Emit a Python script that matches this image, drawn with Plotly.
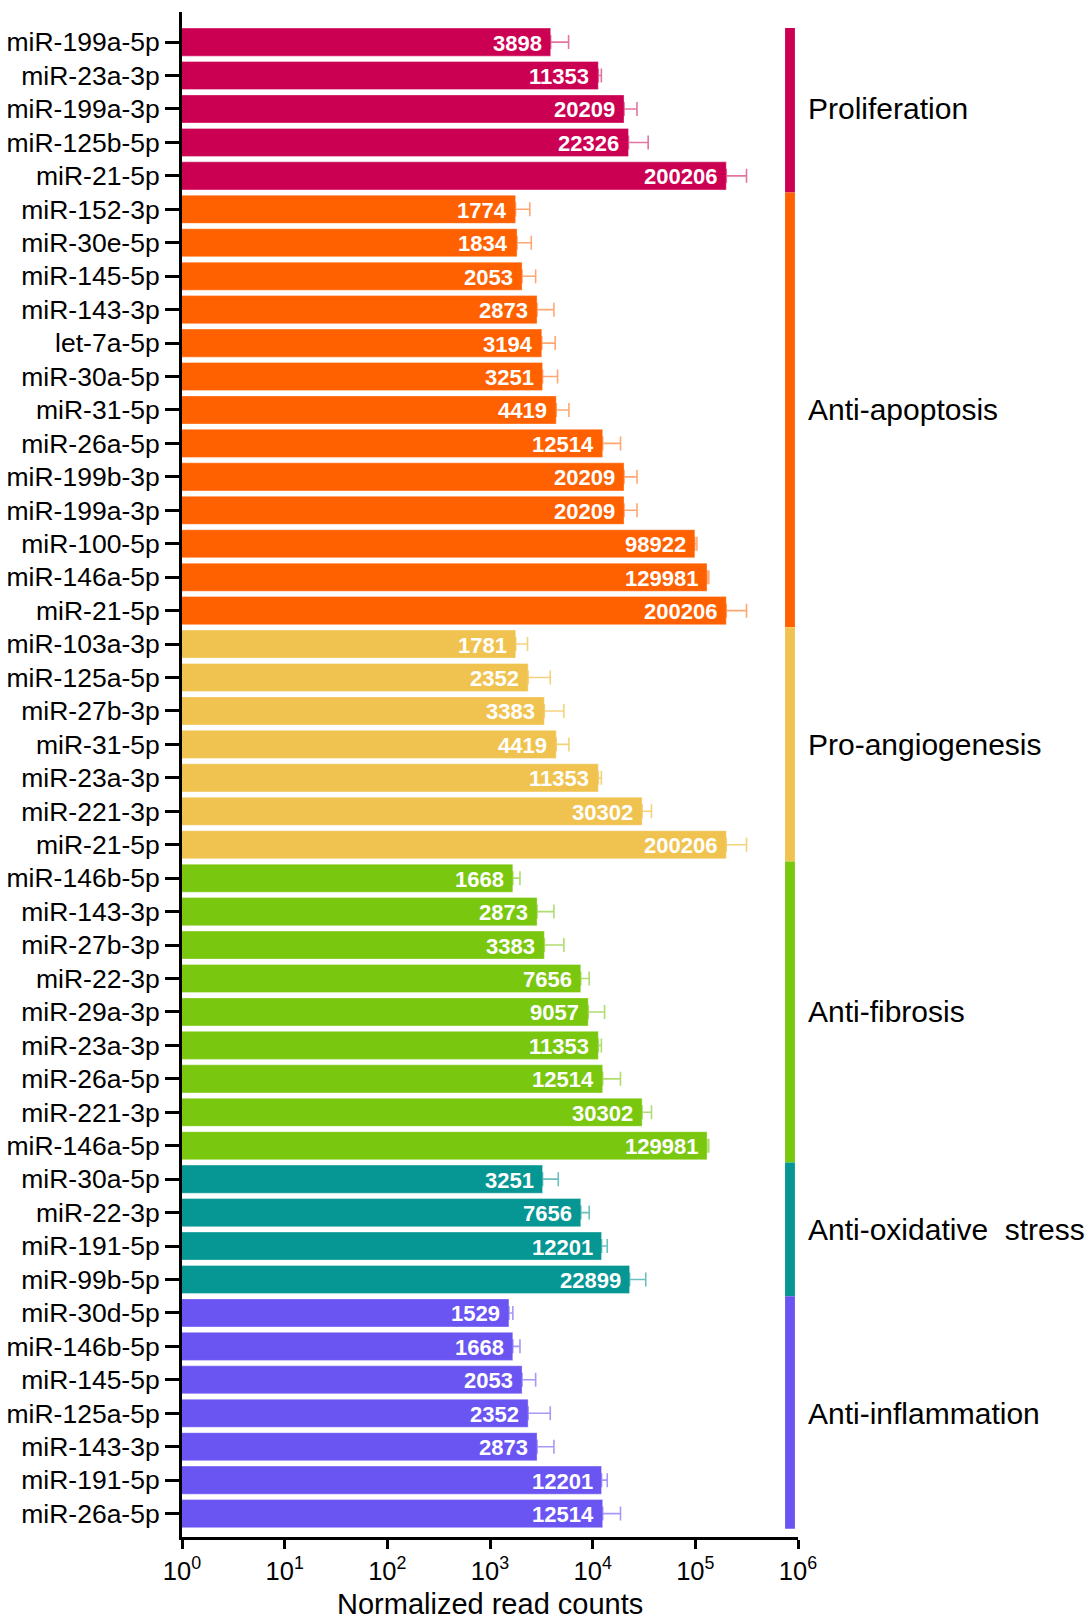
import numpy as np
import plotly.graph_objects as go

# Functional groups of miRNAs (top to bottom)
groups = ["Proliferation", "Anti-apoptosis", "Pro-angiogenesis",
          "Anti-fibrosis", "Anti-oxidative  stress", "Anti-inflammation"]
group_colors = ["#CC0052", "#FF6000", "#F0C350", "#7AC70F", "#069693", "#6A55F2"]
group_err_colors = ["rgba(204,0,82,0.55)", "rgba(255,96,0,0.55)", "rgba(240,195,80,0.75)",
                    "rgba(122,199,15,0.6)", "rgba(6,150,147,0.6)", "rgba(106,85,242,0.6)"]

proliferation_names = ["miR-199a-5p", "miR-23a-3p", "miR-199a-3p", "miR-125b-5p", "miR-21-5p"]
proliferation_counts = [3898, 11353, 20209, 22326, 200206]
proliferation_err = [1930, 800, 6800, 12400, 115000]

apoptosis_names = ["miR-152-3p", "miR-30e-5p", "miR-145-5p", "miR-143-3p", "let-7a-5p",
                   "miR-30a-5p", "miR-31-5p", "miR-26a-5p", "miR-199b-3p", "miR-199a-3p",
                   "miR-100-5p", "miR-146a-5p", "miR-21-5p"]
apoptosis_counts = [1774, 1834, 2053, 2873, 3194, 3251, 4419, 12514, 20209, 20209,
                    98922, 129981, 200206]
apoptosis_err = [670, 690, 730, 1320, 1120, 1300, 1450, 6150, 6800, 6800, 4600, 5300, 115000]

angiogenesis_names = ["miR-103a-3p", "miR-125a-5p", "miR-27b-3p", "miR-31-5p",
                      "miR-23a-3p", "miR-221-3p", "miR-21-5p"]
angiogenesis_counts = [1781, 2352, 3383, 4419, 11353, 30302, 200206]
angiogenesis_err = [540, 1510, 1860, 1450, 800, 7100, 115000]

fibrosis_names = ["miR-146b-5p", "miR-143-3p", "miR-27b-3p", "miR-22-3p", "miR-29a-3p",
                  "miR-23a-3p", "miR-26a-5p", "miR-221-3p", "miR-146a-5p"]
fibrosis_counts = [1668, 2873, 3383, 7656, 9057, 11353, 12514, 30302, 129981]
fibrosis_err = [290, 1320, 1860, 1600, 4000, 800, 6150, 7100, 5300]

oxidative_names = ["miR-30a-5p", "miR-22-3p", "miR-191-5p", "miR-99b-5p"]
oxidative_counts = [3251, 7656, 12201, 22899]
oxidative_err = [1370, 1600, 1660, 10000]

inflammation_names = ["miR-30d-5p", "miR-146b-5p", "miR-145-5p", "miR-125a-5p",
                      "miR-143-3p", "miR-191-5p", "miR-26a-5p"]
inflammation_counts = [1529, 1668, 2053, 2352, 2873, 12201, 12514]
inflammation_err = [140, 290, 730, 1510, 1320, 1660, 6150]

x_tick_vals = [1, 10, 100, 1000, 10000, 100000, 1000000]
x_tick_text = ["10<sup>0</sup>", "10<sup>1</sup>", "10<sup>2</sup>", "10<sup>3</sup>",
               "10<sup>4</sup>", "10<sup>5</sup>", "10<sup>6</sup>"]
x_title = "Normalized read counts"

group_data = [
    (proliferation_names, proliferation_counts, proliferation_err),
    (apoptosis_names, apoptosis_counts, apoptosis_err),
    (angiogenesis_names, angiogenesis_counts, angiogenesis_err),
    (fibrosis_names, fibrosis_counts, fibrosis_err),
    (oxidative_names, oxidative_counts, oxidative_err),
    (inflammation_names, inflammation_counts, inflammation_err),
]

FONT = "Arial, Liberation Sans, sans-serif"
fig = go.Figure()
annotations = []
shapes = []
all_names = []
start = 0
for gname, color, ecolor, (names, counts, errs) in zip(groups, group_colors,
                                                         group_err_colors, group_data):
    idx = list(range(start, start + len(names)))
    all_names.extend(names)
    fig.add_trace(go.Bar(
        x=counts, y=idx, orientation="h", width=0.84,
        marker=dict(color=color, line=dict(color="rgba(255,255,255,0.35)", width=1)),
        error_x=dict(type="data", array=errs, arrayminus=[0] * len(errs),
                     symmetric=False, color=ecolor, thickness=1.6, width=7),
        showlegend=False, hoverinfo="x+y",
    ))
    # value labels inside the bar ends
    for i, v in zip(idx, counts):
        annotations.append(dict(
            x=np.log10(v), y=i, xref="x", yref="y", text=f"<b>{v}</b>",
            showarrow=False, xanchor="right", yanchor="middle", xshift=-7, yshift=-1,
            font=dict(family=FONT, size=22, color="white"),
        ))
    # coloured group strip and group label on the right
    y0 = start - 0.5 if start > 0 else start - 0.42
    y1 = start + len(names) - 0.5 if start + len(names) < 45 else start + len(names) - 0.55
    shapes.append(dict(type="rect", xref="paper", yref="y", x0=0.979, x1=0.995,
                       y0=y0, y1=y1, fillcolor=color, line=dict(width=0), layer="above"))
    annotations.append(dict(
        x=1.013, y=(idx[0] + idx[-1]) / 2, xref="paper", yref="y", text=gname,
        showarrow=False, xanchor="left", yanchor="middle",
        font=dict(family=FONT, size=30, color="black"),
    ))
    start += len(names)

# x axis title
annotations.append(dict(
    x=0.5, y=-0.0440, xref="paper", yref="paper", text=x_title, showarrow=False,
    xanchor="center", yanchor="middle", font=dict(family=FONT, size=29, color="black"),
))

n = len(all_names)
fig.update_layout(
    width=1088, height=1620,
    margin=dict(l=182, r=290, t=12, b=83),
    paper_bgcolor="white", plot_bgcolor="white",
    font=dict(family=FONT, color="black"),
    annotations=annotations, shapes=shapes,
)
fig.update_xaxes(
    type="log", range=[0, 6], tickvals=x_tick_vals, ticktext=x_tick_text,
    ticks="outside", ticklen=9, tickwidth=2.5, tickcolor="black",
    showline=True, linewidth=3, linecolor="black", showgrid=False, zeroline=False,
    tickfont=dict(family=FONT, size=25.5, color="black"), automargin=False,
)
fig.update_yaxes(
    range=[n - 0.3, -0.9], tickmode="array", tickvals=list(range(n)), ticktext=all_names,
    ticks="outside", ticklen=14, tickwidth=2.5, tickcolor="black", ticklabelstandoff=0,
    showline=True, linewidth=3, linecolor="black", showgrid=False, zeroline=False,
    tickfont=dict(family=FONT, size=26.5, color="black"), automargin=False,
)

fig.write_html("out.html")
